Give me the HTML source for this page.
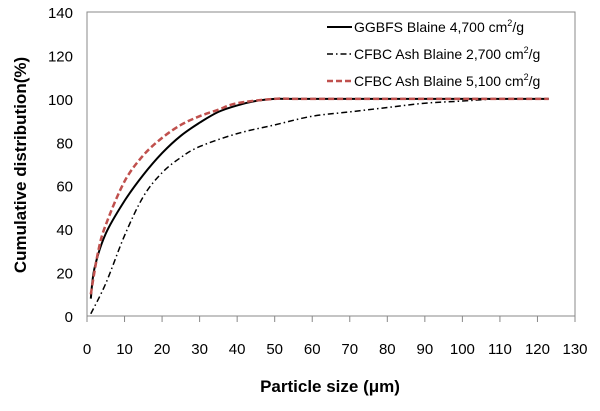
<!DOCTYPE html>
<html><head><meta charset="utf-8"><style>
body{margin:0;background:#fff;width:600px;height:406px;overflow:hidden}
svg{font-family:"Liberation Sans","Noto Sans CJK KR",sans-serif}
</style></head><body>
<svg width="600" height="406">
<g id="axes"></g><g id="series"></g>
<g font-size="14" fill="#000">
<line x1="327" y1="27" x2="352" y2="27" stroke="#000" stroke-width="2"/>
<text x="354" y="32">GGBFS Blaine 4,700  cm<tspan dy="-6" font-size="9">2</tspan><tspan dy="6">/g</tspan></text>
<line x1="327" y1="54" x2="352" y2="54" stroke="#000" stroke-width="1.5" stroke-dasharray="6,3,1.5,3"/>
<text x="354" y="59">CFBC Ash Blaine 2,700  cm<tspan dy="-6" font-size="9">2</tspan><tspan dy="6">/g</tspan></text>
<line x1="327" y1="81" x2="352" y2="81" stroke="#c0504d" stroke-width="2.5" stroke-dasharray="6,3"/>
<text x="354" y="86">CFBC Ash Blaine 5,100  cm<tspan dy="-6" font-size="9">2</tspan><tspan dy="6">/g</tspan></text>
</g>
<text x="330" y="392" text-anchor="middle" font-size="17" font-weight="bold">Particle size (μm)</text>
<text transform="translate(26,165) rotate(-90)" text-anchor="middle" font-size="17" font-weight="bold">Cumulative distribution(%)</text>
</svg>
<script>
const xTicks=[0,10,20,30,40,50,60,70,80,90,100,110,120,130];
const yTicks=[0,20,40,60,80,100,120,140];
const ggX=[1,2,5,10,15,20,25,30,35,40,45,50,60,123];
const ggY=[8,22,38,53,65,75,83,89,94,97,99,100,100,100];
const c27X=[1,5,10,15,20,25,30,40,50,60,70,80,90,100,110,123];
const c27Y=[1,15,37,55,66,73,78,84,88,92,94,96,98,99,100,100];
const c51X=[1,3,5,10,15,20,25,30,35,40,50,60,123];
const c51Y=[10,30,42,62,74,82,88,92,95,98,100,100,100];
const L=87,R=575,T=12,B=316;
const sx=v=>L+(v/130)*(R-L), sy=v=>B-(v/140)*(B-T);
const ns="http://www.w3.org/2000/svg";
const ax=document.getElementById('axes'), se=document.getElementById('series');
function mk(tag,at,p){const e=document.createElementNS(ns,tag);for(const k in at)e.setAttribute(k,at[k]);p.appendChild(e);return e;}
const box=mk('rect',{x:L,y:sy(140),width:R-L,height:B-sy(140),fill:'none',stroke:'#888','stroke-width':1},ax);


xTicks.forEach(v=>{
 mk('line',{x1:sx(v),y1:B,x2:sx(v),y2:B+6,stroke:'#888'},ax);
 const t=mk('text',{x:sx(v),y:B+38,'text-anchor':'middle','font-size':15},ax);t.textContent=v;
 
 
});
yTicks.forEach(v=>{
 const t=mk('text',{x:L-14,y:sy(v)+6,'text-anchor':'end','font-size':15},ax);t.textContent=v;
 
 
});
function line(xs,ys,st,name){
 const P=xs.map((x,i)=>[sx(x),sy(ys[i])]);
 let d='M'+P[0][0].toFixed(1)+','+P[0][1].toFixed(1);
 for(let i=0;i<P.length-1;i++){
  const p0=P[Math.max(0,i-1)],p1=P[i],p2=P[i+1],p3=P[Math.min(P.length-1,i+2)];
  const c1=[p1[0]+(p2[0]-p0[0])/6,p1[1]+(p2[1]-p0[1])/6];
  const c2=[p2[0]-(p3[0]-p1[0])/6,p2[1]-(p3[1]-p1[1])/6];
  d+='C'+c1[0].toFixed(1)+','+c1[1].toFixed(1)+' '+c2[0].toFixed(1)+','+c2[1].toFixed(1)+' '+p2[0].toFixed(1)+','+p2[1].toFixed(1);
 }
 const p=mk('path',Object.assign({d:d,fill:'none','stroke-linejoin':'round'},st),se);
 
 
}
line(c27X,c27Y,{stroke:'#000','stroke-width':1.5,'stroke-dasharray':'6,3,1.5,3'},'cfbc-2700-line');
line(ggX,ggY,{stroke:'#000','stroke-width':2},'ggbfs-4700-line');
line(c51X,c51Y,{stroke:'#c0504d','stroke-width':2.5,'stroke-dasharray':'6,3'},'cfbc-5100-line');
</script>
</body></html>
